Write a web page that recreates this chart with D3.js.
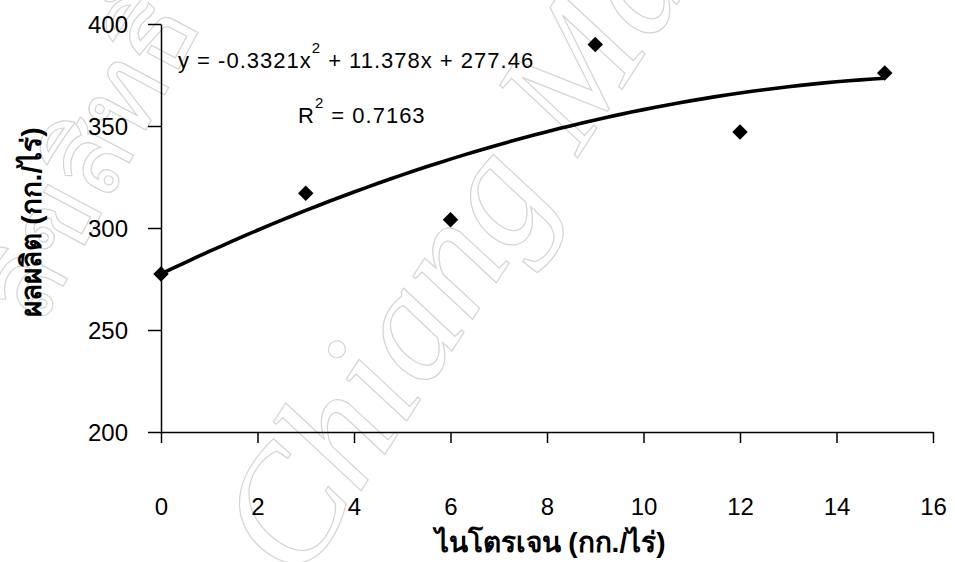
<!DOCTYPE html>
<html>
<head>
<meta charset="utf-8">
<script src="https://cdn.jsdelivr.net/npm/d3@7"></script>
<style>
  body { margin: 0; background: #fff; }
  svg { display: block; }
  text { font-family: "Liberation Sans", Arial, sans-serif; }
</style>
</head>
<body>
<figure id="chart" style="margin:0"></figure>
<script>
// nitrogen rate (kg/rai) vs yield (kg/rai)
const nitrogen = [0, 3, 6, 9, 12, 15];
const yieldVals = [277.5, 317, 304, 390, 347, 376];
// polynomial trendline as printed on the chart
const trendCoef = [-0.3321, 11.378, 277.46];
const xTicks = [0, 2, 4, 6, 8, 10, 12, 14, 16];
const yTicks = [200, 250, 300, 350, 400];
const xTitle = "ไนโตรเจน (กก./ไร่)";
const yTitle = "ผลผลิต (กก./ไร่)";

const size = { width: 955, height: 562 };
const plot = { left: 161, right: 933, top: 24, bottom: 432 };

const svg = d3.select("#chart").append("svg")
  .attr("width", size.width)
  .attr("height", size.height);

// faint watermark behind everything
const wm = svg.append("g")
  .attr("fill", "none")
  .attr("stroke", "#d4d4d4")
  .attr("stroke-width", 1.2);
wm.append("text")
  .attr("transform", "translate(300,585) rotate(-57)")
  .style("font-family", "'Liberation Serif', serif")
  .style("font-style", "italic")
  .style("font-size", "160px")
  .text("Chiang Mai");
wm.append("text")
  .attr("transform", "translate(40,330) rotate(-62)")
  .style("font-family", "'Liberation Serif', serif")
  .style("font-size", "110px")
  .text("ลิขสิทธิ์");

const x = d3.scaleLinear().domain([0, 16]).range([plot.left, plot.right]);
const y = d3.scaleLinear().domain([200, 400]).range([plot.bottom, plot.top]);

// y axis
const gy = svg.append("g")
  .attr("transform", "translate(" + plot.left + ",0)")
  .call(d3.axisLeft(y).tickValues(yTicks).tickSize(13).tickPadding(20).tickSizeOuter(0));
gy.selectAll("text")
  .style("font-size", "24px")
  .attr("fill", "#000")
  .attr("dy", "0.36em");

// x axis
const gx = svg.append("g")
  .attr("transform", "translate(0," + plot.bottom + ")")
  .call(d3.axisBottom(x).tickValues(xTicks).tickSize(11).tickSizeOuter(0));
gx.selectAll("text")
  .style("font-size", "24px")
  .attr("fill", "#000")
  .attr("y", 83)
  .attr("dy", 0);

svg.selectAll(".domain, .tick line")
  .attr("stroke", "#000")
  .attr("stroke-width", 1.5);

// trendline
const line = d3.line()
  .x(d => x(d))
  .y(d => y(trendCoef[0] * d * d + trendCoef[1] * d + trendCoef[2]));
svg.append("path")
  .datum(d3.range(0, 15.01, 0.25))
  .attr("d", line)
  .attr("fill", "none")
  .attr("stroke", "#000")
  .attr("stroke-width", 3.6);

// markers (diamonds)
svg.selectAll(".pt")
  .data(nitrogen)
  .join("path")
  .attr("class", "pt")
  .attr("d", d3.symbol(d3.symbolSquare, 120))
  .attr("transform", (d, i) => "translate(" + x(d) + "," + y(yieldVals[i]) + ") rotate(45)")
  .attr("fill", "#000");

// equation and R²
const eq = svg.append("text")
  .attr("x", 178)
  .attr("y", 68)
  .style("font-size", "22px")
  .style("letter-spacing", "1px");
eq.append("tspan").text("y = -0.3321x");
eq.append("tspan").attr("dy", -15).style("font-size", "15px").text("2");
eq.append("tspan").attr("dy", 15).text(" + 11.378x + 277.46");

const r2 = svg.append("text")
  .attr("x", 298)
  .attr("y", 123)
  .style("font-size", "22px")
  .style("letter-spacing", "1px");
r2.append("tspan").text("R");
r2.append("tspan").attr("dy", -15).style("font-size", "15px").text("2");
r2.append("tspan").attr("dy", 15).text(" = 0.7163");

// axis titles
svg.append("text")
  .attr("x", 550)
  .attr("y", 552)
  .attr("text-anchor", "middle")
  .style("font-size", "28px")
  .style("font-weight", "bold")
  .text(xTitle);

svg.append("text")
  .attr("transform", "translate(41,222) rotate(-90)")
  .attr("text-anchor", "middle")
  .style("font-size", "28px")
  .style("font-weight", "bold")
  .text(yTitle);
</script>
</body>
</html>
